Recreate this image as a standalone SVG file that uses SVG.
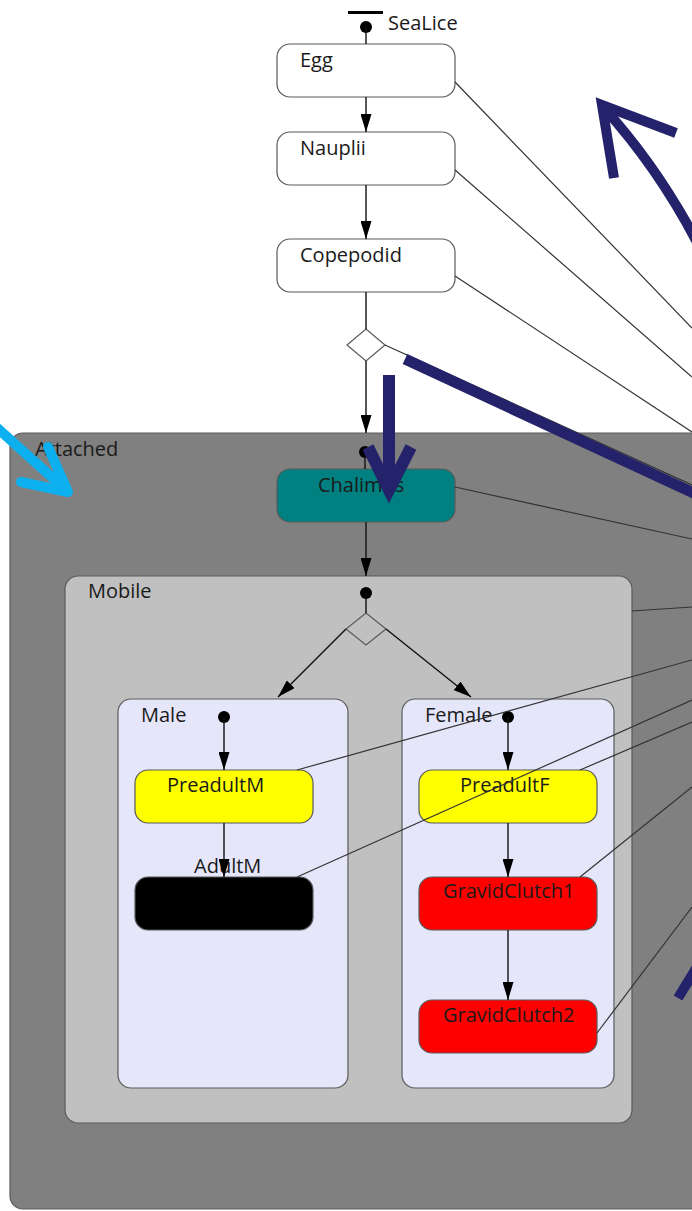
<svg xmlns="http://www.w3.org/2000/svg" width="692" height="1211" viewBox="0 0 692 1211">
<style>
text{font-family:"Open Sans","Noto Sans","Liberation Sans",sans-serif;font-size:20px;fill:#1a1a1a}
.st{stroke:#5a5a5a;stroke-width:1.2}
.flow{stroke:#111;stroke-width:1.4;fill:none}
.link{stroke:#333;stroke-width:1.2;fill:none}
.dot{fill:#000}
.navy{stroke:#23226a;fill:none;stroke-linecap:butt}
.cyan{stroke:#0db0ef;fill:none;stroke-linecap:round;stroke-linejoin:round}
</style>
<defs>
<marker id="arr" markerUnits="userSpaceOnUse" markerWidth="18" markerHeight="11" refX="18" refY="5.5" orient="auto">
<path d="M0,0 L18,5.5 L0,11 z" fill="#000"/>
</marker>
</defs>
<rect width="692" height="1211" fill="#fff"/>

<g id="SeaLice">
<rect x="348" y="11" width="35" height="3" fill="#000"/>
<circle class="dot" cx="366" cy="27" r="6"/>
<text x="388" y="30">SeaLice</text>
</g>
<g id="Egg"><rect class="st" x="277" y="44" width="178" height="53" rx="13" fill="#fff"/><text x="300" y="67">Egg</text></g>
<g id="Nauplii"><rect class="st" x="277" y="132" width="178" height="53" rx="13" fill="#fff"/><text x="300" y="155">Nauplii</text></g>
<g id="Copepodid"><rect class="st" x="277" y="239" width="178" height="53" rx="13" fill="#fff"/><text x="300" y="262">Copepodid</text></g>
<g id="Choice1"><path class="st" d="M366,329 L385,345 L366,361 L347,345 z" fill="#fff"/></g>

<g id="Attached">
<rect class="st" x="10" y="433" width="720" height="776" rx="13" fill="#808080"/>
<text x="35" y="456">Attached</text>
<circle class="dot" cx="365" cy="452" r="6"/>
</g>
<g id="Chalimus"><rect class="st" x="277" y="469" width="178" height="53" rx="13" fill="#008080"/><text x="318" y="492">Chalimus</text></g>

<g id="Mobile">
<rect class="st" x="65" y="576" width="567" height="547" rx="13" fill="#c0c0c0"/>
<text x="88" y="598">Mobile</text>
<circle class="dot" cx="366" cy="593" r="6"/>
<path class="st" d="M366,613 L386,629 L366,645 L346,629 z" fill="#c0c0c0"/>
</g>

<g id="Male">
<rect class="st" x="118" y="699" width="230" height="389" rx="13" fill="#e6e6fa"/>
<text x="141" y="722">Male</text>
<circle class="dot" cx="224" cy="717" r="6"/>
</g>
<g id="PreadultM"><rect class="st" x="135" y="770" width="178" height="53" rx="13" fill="#ffff00"/><text x="167" y="792">PreadultM</text></g>
<g id="AdultM"><rect class="st" x="135" y="877" width="178" height="53" rx="13" fill="#000"/><text x="194" y="873">AdultM</text></g>

<g id="Female">
<rect class="st" x="402" y="699" width="212" height="389" rx="13" fill="#e6e6fa"/>
<text x="425" y="722">Female</text>
<circle class="dot" cx="508" cy="717" r="6"/>
</g>
<g id="PreadultF"><rect class="st" x="419" y="770" width="178" height="53" rx="13" fill="#ffff00"/><text x="460" y="792">PreadultF</text></g>
<g id="GravidClutch1"><rect class="st" x="419" y="877" width="178" height="53" rx="13" fill="#ff0000"/><text x="443" y="898">GravidClutch1</text></g>
<g id="GravidClutch2"><rect class="st" x="419" y="1000" width="178" height="53" rx="13" fill="#ff0000"/><text x="443" y="1022">GravidClutch2</text></g>

<g id="connectors">
<path class="flow" d="M366,27 L366,44"/>
<path class="flow" d="M366,97 L366,132" marker-end="url(#arr)"/>
<path class="flow" d="M366,185 L366,239" marker-end="url(#arr)"/>
<path class="flow" d="M366,292 L366,329"/>
<path class="flow" d="M366,361 L366,433" marker-end="url(#arr)"/>
<path class="flow" d="M365,452 L365,469"/>
<path class="flow" d="M366,522 L366,576" marker-end="url(#arr)"/>
<path class="flow" d="M366,593 L366,613"/>
<path class="flow" d="M346,629 L278,697" marker-end="url(#arr)"/>
<path class="flow" d="M386,629 L471,697" marker-end="url(#arr)"/>
<path class="flow" d="M224,717 L224,770" marker-end="url(#arr)"/>
<path class="flow" d="M224,823 L224,877" marker-end="url(#arr)"/>
<path class="flow" d="M508,717 L508,770" marker-end="url(#arr)"/>
<path class="flow" d="M508,823 L508,877" marker-end="url(#arr)"/>
<path class="flow" d="M508,930 L508,1000" marker-end="url(#arr)"/>

<path class="link" d="M455,82 L692,328"/>
<path class="link" d="M455,170 L692,377"/>
<path class="link" d="M455,276 L692,432"/>
<path class="link" d="M385,345 L692,485"/>
<path class="link" d="M455,487 L692,539"/>
<path class="link" d="M632,611 L692,607"/>
<path class="link" d="M297,770 L692,660"/>
<path class="link" d="M297,877 L692,700"/>
<path class="link" d="M580,770 L692,722"/>
<path class="link" d="M580,877 L692,787"/>
<path class="link" d="M597,1033 L692,907"/>
</g>

<g id="annotations">
<path class="navy" stroke-width="10" d="M700,248 Q660,170 604,108"/>
<path class="navy" stroke-width="10" stroke-linejoin="miter" d="M614,178 L602,105 L676,133"/>
<path class="navy" stroke-width="11" d="M405,359 L700,496"/>
<path class="navy" stroke-width="12" d="M389,375 L389,488"/>
<path class="navy" stroke-width="12" stroke-linejoin="miter" d="M368,447 L389,490 L411,447"/>
<path class="navy" stroke-width="10" d="M700,962 L678,998"/>
<path class="cyan" stroke-width="10" d="M-5,426 L66,490"/>
<path class="cyan" stroke-width="10" d="M21,482 L68,492 L48,447"/>
</g>
</svg>
